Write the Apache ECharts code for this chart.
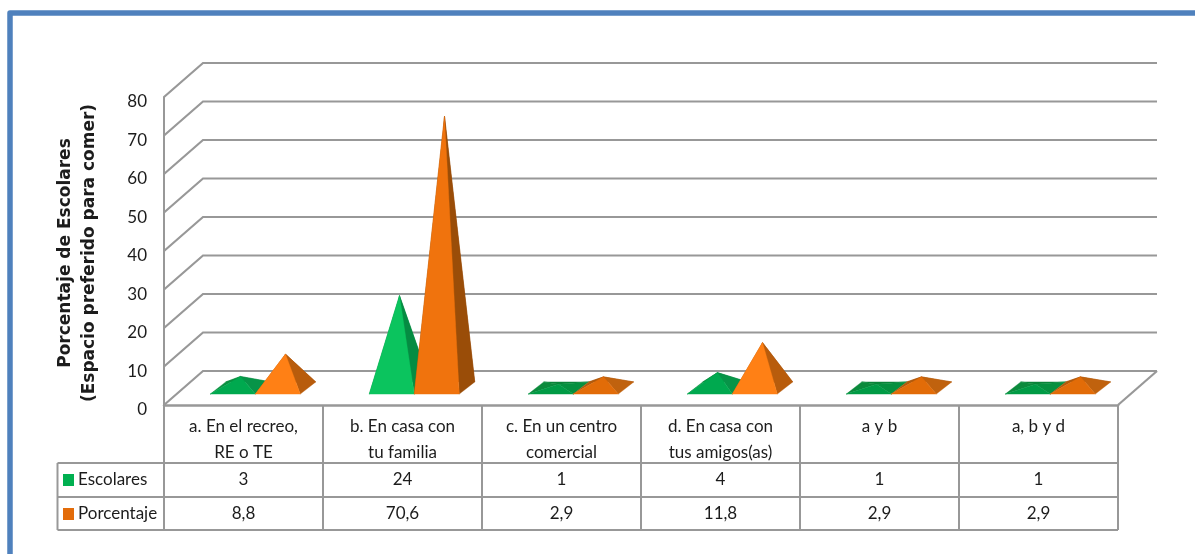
<!DOCTYPE html>
<html>
<head>
<meta charset="utf-8">
<style>html,body{margin:0;padding:0;background:#fff}#chart{width:1195px;height:554px}</style>
<script src="https://cdn.jsdelivr.net/npm/echarts@6/dist/echarts.min.js"></script>
</head>
<body>
<div id="chart"></div>
<script>
const categories = ['a. En el recreo,\nRE o TE', 'b. En casa con\ntu familia', 'c. En un centro\ncomercial', 'd. En casa con\ntus amigos(as)', 'a y b', 'a, b y d'];
const escolares = [3, 24, 1, 4, 1, 1];
const porcentaje = [8.8, 70.6, 2.9, 11.8, 2.9, 2.9];
const valueTicks = [0, 10, 20, 30, 40, 50, 60, 70, 80];
const rowLines = [463, 497, 530];

const FONT = 'Lato';
const GRID_COLOR = '#989898';
const TEXT_COLOR = '#1c1c1c';
// Oblique projection of the floor: full depth of the plot box
const DEPTH_X = 39, DEPTH_Y = -34;
// Half sizes of a pyramid base on screen
const HALF_W = 22.5, HALF_DX = 7.75, HALF_DY = 6.1;

// Face shades per series, from flat to steep pyramids
const shades = {
  green: [
    { v: 1.5, front: '#009B45', right: '#05903F', left: '#0B8A3C', back: '#0A8238' },
    { v: 10, front: '#00A94F', right: '#079448', left: '#0B8F40', back: '#0A8238' },
    { v: 999, front: '#0BC45E', right: '#058C42', left: '#058C42', back: '#058C42' }
  ],
  orange: [
    { v: 5, front: '#E26C08', right: '#C0620E', left: '#B25A0C', back: '#9E520D' },
    { v: 20, front: '#FF8015', right: '#B85C0C', left: '#B85C0C', back: '#9E520D' },
    { v: 999, front: '#F0730D', right: '#9A4D08', left: '#9A4D08', back: '#9A4D08' }
  ]
};

function pyramidSeries(name, values, swatch, palette, side, rowY) {
  return {
    name: name,
    type: 'custom',
    coordinateSystem: 'cartesian2d',
    clip: false,
    z: 5,
    itemStyle: { color: swatch },
    encode: { x: 0, y: 1 },
    data: values.map((v, i) => [i, v]),
    renderItem: function (params, api) {
      const v = api.value(1);
      const apexRef = api.coord([api.value(0), v]);
      const baseRef = api.coord([api.value(0), 0]);
      const cx = baseRef[0] + DEPTH_X / 2 + side * HALF_W;
      const cy = baseRef[1] + DEPTH_Y / 2;
      const apex = [cx, cy - (baseRef[1] - apexRef[1])];
      const fl = [cx - HALF_W - HALF_DX, cy + HALF_DY];
      const fr = [cx + HALF_W - HALF_DX, cy + HALF_DY];
      const br = [cx + HALF_W + HALF_DX, cy - HALF_DY];
      const bl = [cx - HALF_W + HALF_DX, cy - HALF_DY];
      const s = palette.find(p => v <= p.v);
      // A thin stroke in the face colour closes the seams between faces
      const face = (pts, fill) => ({
        type: 'polygon', shape: { points: pts },
        style: { fill: fill, stroke: fill, lineWidth: 0.4 }
      });
      return {
        type: 'group',
        children: [
          face([bl, br, apex], s.back),
          face([fl, bl, apex], s.left),
          face([fr, br, apex], s.right),
          face([fl, fr, apex], s.front),
          {
            type: 'text',
            style: {
              x: baseRef[0], y: rowY,
              text: String(v).replace('.', ','),
              fill: TEXT_COLOR, font: '17px ' + FONT,
              align: 'center', verticalAlign: 'middle'
            }
          }
        ]
      };
    }
  };
}

const option = {
  animation: false,
  backgroundColor: '#fff',
  grid: { left: 164, top: 97, width: 954, height: 308, containLabel: false },
  legend: {
    orient: 'vertical', left: 63, top: 470,
    itemWidth: 11, itemHeight: 12, itemGap: 14, padding: 0,
    selectedMode: false,
    textStyle: { fontFamily: FONT, fontSize: 17, lineHeight: 20, color: TEXT_COLOR, padding: [0, 0, 0, -1] },
    data: [
      { name: 'Escolares', icon: 'rect' },
      { name: 'Porcentaje', icon: 'rect' }
    ]
  },
  xAxis: {
    type: 'category',
    data: categories,
    boundaryGap: true,
    axisLine: { show: true, lineStyle: { color: GRID_COLOR, width: 2.5 } },
    axisTick: { show: true, interval: 0, length: 125, lineStyle: { color: GRID_COLOR, width: 2 } },
    axisLabel: {
      interval: 0, margin: 9, verticalAlign: 'top',
      fontFamily: FONT, fontSize: 17, lineHeight: 25.5, color: TEXT_COLOR
    }
  },
  yAxis: {
    type: 'value', min: 0, max: 80, interval: 10,
    name: 'Porcentaje de Escolares\n(Espacio preferido para comer)',
    nameLocation: 'middle', nameRotate: 90, nameGap: 62,
    nameTextStyle: { fontFamily: 'DejaVu Sans', fontWeight: 'bold', fontSize: 17, lineHeight: 24, color: TEXT_COLOR, padding: [0, 4, 0, 0] },
    splitLine: { show: false },
    axisTick: { show: false },
    axisLine: { show: true, lineStyle: { color: GRID_COLOR, width: 2 } },
    axisLabel: { margin: 17, verticalAlign: 'top', lineHeight: 10, fontFamily: FONT, fontSize: 17, color: TEXT_COLOR }
  },
  series: [
    {
      // Wall and floor gridlines, carried from the front plane to the back wall
      name: 'walls', type: 'custom', coordinateSystem: 'cartesian2d', clip: false, z: 1,
      encode: { x: 0, y: 1 },
      data: valueTicks.map(t => [0, t]),
      renderItem: function (params, api) {
        const t = api.value(1);
        const y = api.coord([0, t])[1];
        const x0 = params.coordSys.x, x1 = x0 + params.coordSys.width;
        const lineStyle = { stroke: GRID_COLOR, lineWidth: 2.2, fill: 'none' };
        const children = [{
          type: 'polyline',
          shape: { points: [[x0, y], [x0 + DEPTH_X, y + DEPTH_Y], [x1 + DEPTH_X, y + DEPTH_Y]] },
          style: lineStyle
        }];
        if (t === 0) {
          children.push({
            type: 'polyline',
            shape: { points: [[x1, y], [x1 + DEPTH_X, y + DEPTH_Y]] },
            style: lineStyle
          });
        }
        return { type: 'group', children: children };
      }
    },
    {
      // Horizontal rules of the data table under the plot
      name: 'rows', type: 'custom', coordinateSystem: 'cartesian2d', clip: false, z: 1,
      encode: { x: 0, y: 1 },
      data: [[0, 0]],
      renderItem: function (params) {
        const xL = 57.5, x1 = params.coordSys.x + params.coordSys.width;
        const style = { stroke: GRID_COLOR, lineWidth: 2, fill: 'none' };
        const children = rowLines.map(y => ({
          type: 'line', shape: { x1: xL, y1: y, x2: x1, y2: y }, style: style
        }));
        children.push({
          type: 'line',
          shape: { x1: xL, y1: rowLines[0], x2: xL, y2: rowLines[rowLines.length - 1] },
          style: style
        });
        return { type: 'group', children: children };
      }
    },
    pyramidSeries('Escolares', escolares, '#00B050', shades.green, -1, 480),
    pyramidSeries('Porcentaje', porcentaje, '#E36C0A', shades.orange, 1, 513.5)
  ],
  graphic: [{
    // Blue frame along the top and left of the page
    type: 'polyline', silent: true, z: 10,
    shape: { points: [[10, 560], [10, 13], [1200, 13]] },
    style: { stroke: '#4F81BD', lineWidth: 5.5, fill: 'none', lineJoin: 'round' }
  }]
};

const chart = echarts.init(document.getElementById('chart'), null, { renderer: 'canvas' });
chart.setOption(option);
</script>
</body>
</html>
